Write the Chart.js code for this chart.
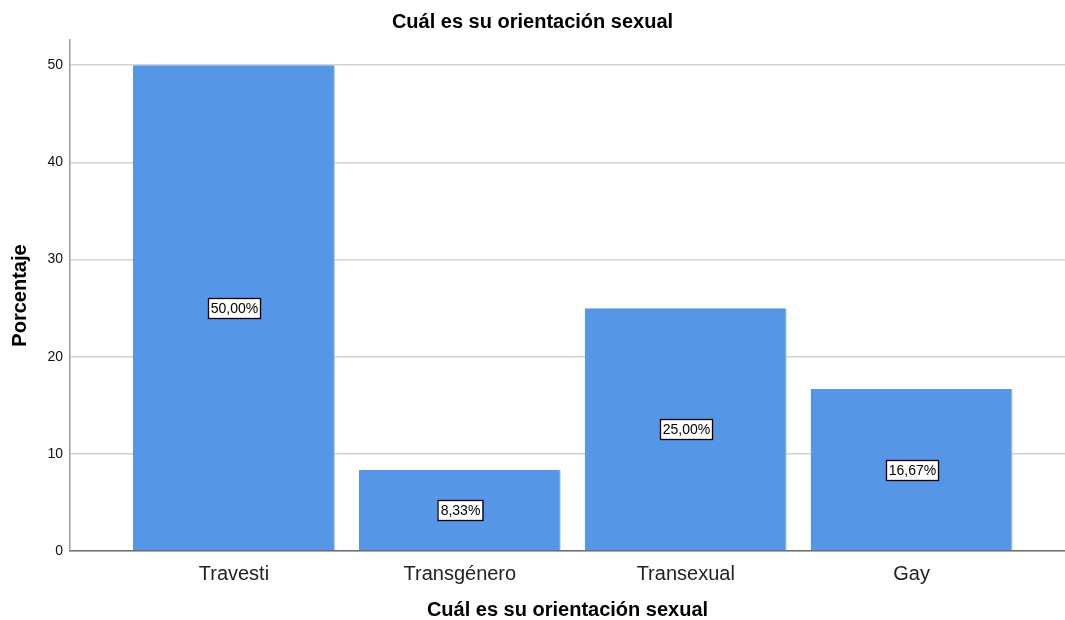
<!DOCTYPE html>
<html>
<head>
<meta charset="utf-8">
<script src="https://cdn.jsdelivr.net/npm/chart.js@4"></script>
<style>
  html, body { margin: 0; padding: 0; background: #ffffff; }
  #wrap { width: 1065px; height: 620px; }
</style>
</head>
<body>
<div id="wrap"><canvas id="chart"></canvas></div>
<script>
// data
const categories = ['Travesti', 'Transgénero', 'Transexual', 'Gay'];
const percentages = [50.00, 8.33, 25.00, 16.67];
const yTicks = [0, 10, 20, 30, 40, 50];

const FONT = "'Liberation Sans', Arial, sans-serif";

// little white boxes with the value in the middle of each bar
const valueLabels = {
  id: 'valueLabels',
  afterDatasetsDraw(chart) {
    const ctx = chart.ctx;
    const meta = chart.getDatasetMeta(0);
    ctx.save();
    ctx.font = '14px ' + FONT;
    ctx.textAlign = 'center';
    ctx.textBaseline = 'middle';
    meta.data.forEach((bar, i) => {
      const text = percentages[i].toFixed(2).replace('.', ',') + '%';
      const w = Math.round(ctx.measureText(text).width + 5);
      const h = 20;
      const cx = Math.round(bar.x);
      const cy = Math.round((bar.y + bar.base) / 2);
      ctx.fillStyle = '#ffffff';
      ctx.fillRect(cx - w / 2, cy - h / 2, w, h);
      ctx.strokeStyle = '#000000';
      ctx.lineWidth = 1.3;
      ctx.strokeRect(cx - w / 2 + 0.5, cy - h / 2 + 0.5, w, h);
      ctx.fillStyle = '#000000';
      ctx.fillText(text, cx + 0.5, cy + 1);
    });
    ctx.restore();
  }
};

const chartData = {
  datasets: [{
    data: percentages.map((v, i) => ({ x: i, y: v })),
    backgroundColor: '#5596e6',
    borderColor: '#a9cbf3',
    borderWidth: { right: 1, left: 0, top: 0, bottom: 0 },
    barPercentage: 0.894,
    categoryPercentage: 1
  }]
};

const config = {
  type: 'bar',
  data: chartData,
  options: {
    responsive: true,
    maintainAspectRatio: false,
    animation: false,
    layout: { padding: { left: 0, right: 0, top: 0, bottom: 0 } },
    plugins: {
      legend: { display: false },
      tooltip: { enabled: false },
      title: {
        display: true,
        text: 'Cuál es su orientación sexual',
        color: '#000000',
        font: { family: FONT, size: 20, weight: 'bold' },
        padding: { top: 10, bottom: 6 }
      }
    },
    scales: {
      x: {
        type: 'linear',
        offset: false,
        min: -0.7257,
        max: 3.679,
        afterBuildTicks: scale => { scale.ticks = categories.map((c, i) => ({ value: i })); },
        afterFit: scale => { scale.height = 69; },
        ticks: {
          callback: v => categories[v],
          color: '#222222',
          font: { family: FONT, size: 20 },
          padding: 11,
          maxRotation: 0,
          autoSkip: false
        },
        grid: { display: false, drawTicks: false },
        border: { display: true, color: '#6e6e6e', width: 1.5 },
        title: {
          display: true,
          text: 'Cuál es su orientación sexual',
          color: '#000000',
          font: { family: FONT, size: 20, weight: 'bold', lineHeight: 1 },
          padding: { top: 0, bottom: 0 }
        }
      },
      y: {
        min: 0,
        max: 52.6,
        afterBuildTicks: scale => { scale.ticks = yTicks.map(v => ({ value: v })); },
        afterFit: scale => { scale.width = 70; },
        ticks: {
          color: '#111111',
          font: { family: FONT, size: 14 },
          padding: 7
        },
        grid: {
          color: '#d2d2d2',
          lineWidth: 1.6,
          drawTicks: false
        },
        border: { display: true, color: '#9a9a9a', width: 1.5 },
        title: {
          display: true,
          text: 'Porcentaje',
          color: '#000000',
          font: { family: FONT, size: 20, weight: 'bold' },
          padding: { top: 8, bottom: 0 }
        }
      }
    }
  },
  plugins: [valueLabels]
};

const chart1 = new Chart(document.getElementById('chart').getContext('2d'), config);
</script>
</body>
</html>
